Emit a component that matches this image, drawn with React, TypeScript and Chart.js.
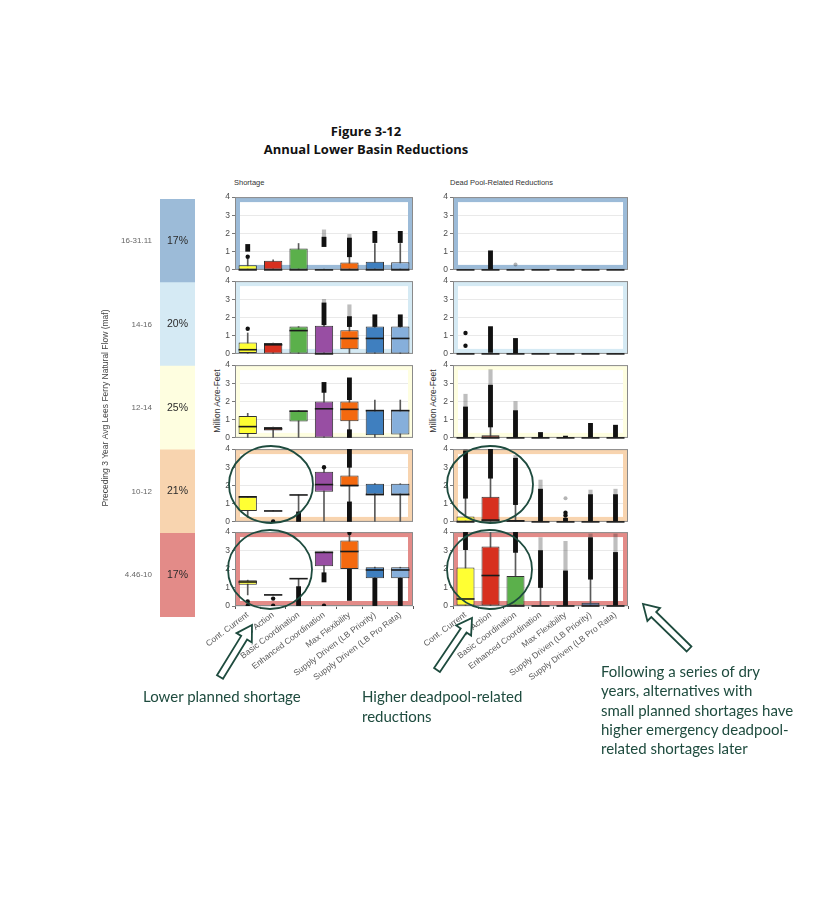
import React, { useEffect, useRef } from "react";
import { Chart, registerables } from "chart.js";
Chart.register(...registerables);

const FONT = '"Liberation Sans", Arial, sans-serif';
const HAND = 'Lato, "Noto Sans", sans-serif';
const INK = "#1e4b3e";

const CATEGORIES = [
  "Cont. Current",
  "No Action",
  "Basic Coordination",
  "Enhanced Coordination",
  "Max Flexibility",
  "Supply Driven (LB Priority)",
  "Supply Driven (LB Pro Rata)",
];
const BOX_COLORS = ["#ffff33", "#d7301f", "#5bb04b", "#984ea3", "#f4690f", "#3f7fbf", "#86afdb"];

const FLOW_BINS = ["16-31.11", "14-16", "12-14", "10-12", "4.46-10"];
const FLOW_SHARE = [17, 20, 25, 21, 17];
const BIN_COLORS = ["#9cbbd8", "#d5eaf4", "#fefee0", "#f8d4af", "#e38b88"];
const Y_TICKS = [0, 1, 2, 3, 4];

type Band = [number, number, number]; // category index, low, high
type Pt = [number, number]; // category index, value

// ---------- Shortage (left column), rows = flow bins ----------
const SHORT_Q1 = [
  [0, 0, 0, 0, 0, 0, 0],
  [0.05, 0, 0, 0, 0.25, 0, 0],
  [0.22, 0.4, 0.9, 0, 0.92, 0.15, 0.18],
  [0.6, 0.58, 1.48, 1.65, 1.95, 1.5, 1.5],
  [1.15, 0.58, 1.48, 2.15, 2.0, 1.5, 1.5],
];
const SHORT_MED = [
  [0, 0, 0, 0, 0, 0, 0],
  [0.23, 0.5, 1.28, 0, 0.85, 0.85, 0.85],
  [0.62, 0.5, 1.47, 1.6, 1.57, 1.5, 1.5],
  [1.38, 0.6, 1.48, 2.05, 2.0, 1.5, 1.5],
  [1.3, 0.6, 1.48, 2.9, 2.95, 1.95, 1.95],
];
const SHORT_Q3 = [
  [0.25, 0.5, 1.18, 0.03, 0.4, 0.45, 0.42],
  [0.62, 0.6, 1.5, 1.55, 1.3, 1.5, 1.5],
  [1.2, 0.6, 1.5, 2.0, 2.0, 1.52, 1.52],
  [1.38, 0.62, 1.48, 2.75, 2.55, 2.1, 2.1],
  [1.4, 0.62, 1.48, 2.95, 3.55, 2.1, 2.1],
];
const SHORT_WLO = [
  [0, 0, 0, 0, 0, 0, 0],
  [0, 0, 0, 0, 0, 0, 0],
  [0, 0, 0, 0, 0.45, 0, 0],
  [0.25, 0.6, 0.55, 0, 1.1, 0, 0],
  [0.6, 0.6, 1.05, 1.8, 2.0, 1.5, 1.5],
];
const SHORT_WHI = [
  [0.6, 0.55, 1.45, 0.05, 0.72, 1.45, 1.45],
  [1.15, 0.6, 1.5, 1.6, 1.5, 1.5, 1.5],
  [1.35, 0.6, 1.5, 2.5, 2.1, 2.08, 2.08],
  [1.38, 0.62, 1.48, 2.95, 3.0, 2.1, 2.1],
  [1.4, 0.62, 1.48, 2.95, 3.85, 2.1, 2.1],
];
const SHORT_BANDS: Band[][] = [
  [[0, 1.02, 1.4], [3, 1.28, 1.8], [4, 0.72, 1.75], [5, 1.5, 2.12], [6, 1.5, 2.12]],
  [[3, 1.6, 2.8], [4, 1.5, 2.05], [5, 1.5, 2.15], [6, 1.5, 2.15]],
  [[3, 2.5, 3.05], [4, 2.1, 3.3], [4, 0, 0.45]],
  [[2, 0, 0.55], [4, 3.0, 4.0], [4, 0, 1.1]],
  [[2, 0, 1.05], [3, 1.3, 1.8], [4, 0.3, 2.0], [5, 0, 1.5], [6, 0, 1.5]],
];
const SHORT_FAINT: Band[][] = [
  [[3, 1.8, 2.2], [4, 1.75, 1.95]],
  [[3, 2.8, 3.0], [4, 2.05, 2.7]],
  [],
  [],
  [],
];
const SHORT_POINTS: Pt[][] = [
  [[0, 0.72]],
  [[0, 1.38]],
  [],
  [[1, 0.02], [3, 3.0]],
  [[0, 0.25], [0, 0.02], [1, 0.4], [1, 0.02], [3, 0.02], [4, 3.95]],
];
const SHORT_FAINT_POINTS: Pt[][] = [[], [], [], [], []];

// ---------- Dead Pool-Related Reductions (right column) ----------
const DEAD_Q1 = [
  [0, 0, 0, 0, 0, 0, 0],
  [0, 0, 0, 0, 0, 0, 0],
  [0, 0, 0, 0, 0, 0, 0],
  [0, 0, 0, 0, 0, 0, 0],
  [0, 0, 0, 0, 0, 0, 0],
];
const DEAD_MED = [
  [0, 0, 0, 0, 0, 0, 0],
  [0, 0, 0, 0, 0, 0, 0],
  [0, 0, 0, 0, 0, 0, 0],
  [0, 0.1, 0.05, 0, 0, 0, 0],
  [0.38, 1.65, 0, 0, 0, 0, 0],
];
const DEAD_Q3 = [
  [0, 0, 0, 0, 0, 0, 0],
  [0, 0, 0, 0, 0, 0, 0],
  [0, 0.15, 0, 0, 0, 0, 0],
  [0.3, 1.38, 0.1, 0, 0, 0, 0],
  [2.08, 3.22, 1.62, 0, 0, 0.18, 0],
];
const DEAD_WLO = [
  [0, 0, 0, 0, 0, 0, 0],
  [0, 0, 0, 0, 0, 0, 0],
  [0, 0, 0, 0, 0, 0, 0],
  [0, 0, 0, 0, 0, 0, 0],
  [0, 0, 0, 0, 0, 0, 0],
];
const DEAD_WHI = [
  [0, 0, 0, 0, 0, 0, 0],
  [0, 0, 0, 0, 0, 0, 0],
  [0, 0.6, 0, 0, 0, 0, 0],
  [1.3, 2.4, 0.95, 0, 0, 0, 0],
  [3.05, 4.0, 2.9, 1.0, 0, 1.45, 0],
];
const DEAD_BANDS: Band[][] = [
  [[1, 0.04, 1.05]],
  [[1, 0.08, 1.5], [2, 0.04, 0.85]],
  [[0, 0.04, 1.7], [1, 0.6, 2.9], [2, 0.04, 1.5], [3, 0.02, 0.3], [4, 0.02, 0.1], [5, 0.04, 0.8], [6, 0.04, 0.7]],
  [[0, 1.3, 3.9], [1, 2.4, 4.0], [2, 0.95, 3.5], [3, 0.04, 1.8], [4, 0.02, 0.2], [5, 0.04, 1.5], [6, 0.04, 1.5]],
  [[0, 3.05, 4.0], [2, 2.9, 4.0], [3, 1.0, 3.0], [4, 0.02, 1.9], [5, 1.45, 3.7], [6, 0.04, 2.9]],
];
const DEAD_FAINT: Band[][] = [
  [],
  [],
  [[0, 1.7, 2.4], [1, 2.9, 3.75], [2, 1.5, 2.0]],
  [[0, 3.9, 4.0], [2, 3.5, 3.65], [3, 1.8, 2.3], [5, 1.5, 1.75], [6, 1.5, 1.8]],
  [[3, 3.0, 3.7], [4, 1.9, 3.5], [5, 3.7, 3.9], [6, 2.9, 3.9]],
];
const DEAD_POINTS: Pt[][] = [
  [],
  [[0, 1.15], [0, 0.45]],
  [],
  [[4, 0.35], [4, 0.5]],
  [],
];
const DEAD_FAINT_POINTS: Pt[][] = [[[2, 0.3]], [], [], [[4, 1.3]], []];

// ---------- layout ----------
const PANEL_TOPS = [196, 279.5, 364, 447.5, 531];
const PLOT_H = 75;
const COLS = [
  { plotLeft: 235, plotW: 178 },
  { plotLeft: 453, plotW: 175 },
];
const AXIS_W = 45;
const PAD_T = 6;
const PAD_B = 6;
const PAD_R = 5;
const X_AXIS_H = 115;
const BOX_FRAC = 0.72;

const STATS = [
  { q1: SHORT_Q1, med: SHORT_MED, q3: SHORT_Q3, wLo: SHORT_WLO, wHi: SHORT_WHI, bands: SHORT_BANDS, faint: SHORT_FAINT, points: SHORT_POINTS, faintPoints: SHORT_FAINT_POINTS },
  { q1: DEAD_Q1, med: DEAD_MED, q3: DEAD_Q3, wLo: DEAD_WLO, wHi: DEAD_WHI, bands: DEAD_BANDS, faint: DEAD_FAINT, points: DEAD_POINTS, faintPoints: DEAD_FAINT_POINTS },
];

function layers(list: Band[]): (number[] | null)[][] {
  const out: (number[] | null)[][] = [];
  for (const [c, lo, hi] of list) {
    let layer = out.find((l) => l[c] === null);
    if (!layer) {
      layer = CATEGORIES.map(() => null);
      out.push(layer);
    }
    layer[c] = [lo, hi];
  }
  return out;
}

function BoxPanel({ col, row }: { col: number; row: number }) {
  const ref = useRef<HTMLCanvasElement>(null);
  const g = COLS[col];
  const isBottom = row === FLOW_BINS.length - 1;
  const w = AXIS_W + g.plotW + PAD_R;
  const h = PAD_T + PLOT_H + (isBottom ? X_AXIS_H : PAD_B);

  useEffect(() => {
    const s = STATS[col];
    const q1 = s.q1[row], med = s.med[row], q3 = s.q3[row];
    const wLo = s.wLo[row], wHi = s.wHi[row];
    const frame = BIN_COLORS[row];

    const datasets: any[] = [];
    datasets.push({
      type: "bar",
      data: CATEGORIES.map((_, i) => [wLo[i], wHi[i]]),
      backgroundColor: "#5a5a5a",
      barThickness: 1,
      grouped: false,
      order: 6,
    });
    layers(s.faint[row]).forEach((l) =>
      datasets.push({ type: "bar", data: l, backgroundColor: "rgba(40,40,40,0.3)", barThickness: 3.5, grouped: false, order: 5 })
    );
    layers(s.bands[row]).forEach((l) =>
      datasets.push({ type: "bar", data: l, backgroundColor: "#111111", barThickness: 4.2, grouped: false, order: 4 })
    );
    datasets.push({
      type: "bar",
      data: CATEGORIES.map((_, i) => [q1[i], q3[i]]),
      backgroundColor: BOX_COLORS,
      borderColor: "#333333",
      borderWidth: 1,
      borderSkipped: false,
      categoryPercentage: 1,
      barPercentage: BOX_FRAC,
      grouped: false,
      order: 2,
    });
    datasets.push({
      type: "line",
      data: s.faintPoints[row].map(([c, v]) => ({ x: CATEGORIES[c], y: v })),
      showLine: false,
      pointRadius: 2,
      pointBorderWidth: 0,
      pointBackgroundColor: "rgba(40,40,40,0.35)",
      order: 1,
    });
    datasets.push({
      type: "line",
      data: s.points[row].map(([c, v]) => ({ x: CATEGORIES[c], y: v })),
      showLine: false,
      pointRadius: 2.2,
      pointBorderWidth: 0,
      pointBackgroundColor: "#111111",
      order: 0,
    });

    const framePlugin = {
      id: "frame",
      beforeDatasetsDraw(chart: any) {
        const { left, top, right, bottom } = chart.chartArea;
        const ctx = chart.ctx;
        ctx.save();
        ctx.strokeStyle = frame;
        ctx.lineWidth = 4.5;
        ctx.strokeRect(left + 2.75, top + 2.75, right - left - 5.5, bottom - top - 5.5);
        ctx.strokeStyle = "#8a8a8a";
        ctx.lineWidth = 1;
        ctx.strokeRect(left + 0.5, top + 0.5, right - left - 1, bottom - top - 1);
        ctx.restore();
      },
    };
    const medianPlugin = {
      id: "medians",
      afterDatasetsDraw(chart: any) {
        const xs = chart.scales.x, ys = chart.scales.y, ctx = chart.ctx;
        const half = ((xs.right - xs.left) / CATEGORIES.length) * BOX_FRAC / 2;
        ctx.save();
        ctx.strokeStyle = "#1a1a1a";
        ctx.lineWidth = 1.6;
        med.forEach((m: number, i: number) => {
          const px = xs.getPixelForValue(i);
          const py = ys.getPixelForValue(m);
          ctx.beginPath();
          ctx.moveTo(px - half, py);
          ctx.lineTo(px + half, py);
          ctx.stroke();
        });
        ctx.restore();
      },
    };

    const chart = new Chart(ref.current!, {
      type: "bar",
      data: { labels: CATEGORIES, datasets },
      options: {
        responsive: false,
        animation: false,
        layout: { padding: { top: PAD_T, bottom: isBottom ? 0 : PAD_B, left: 0, right: PAD_R } },
        plugins: { legend: { display: false }, tooltip: { enabled: false } },
        scales: {
          x: {
            display: isBottom,
            offset: true,
            grid: { display: true, drawOnChartArea: false, drawTicks: true, tickLength: 3, tickColor: "#555" },
            border: { display: false },
            ticks: { autoSkip: false, minRotation: 37, maxRotation: 37, font: { size: 8.5, family: FONT }, color: "#595959", padding: 1 },
            afterFit: (sc: any) => {
              if (isBottom) sc.height = X_AXIS_H;
            },
          },
          y: {
            min: 0,
            max: 4,
            afterBuildTicks: (sc: any) => {
              const t: any[] = [];
              Y_TICKS.forEach((v, i) => {
                t.push({ value: v });
                if (i < Y_TICKS.length - 1) t.push({ value: v + 0.5 });
              });
              sc.ticks = t;
            },
            ticks: {
              callback: (v: any) => (Y_TICKS.includes(Number(v)) ? String(v) : ""),
              font: { size: 8.5, family: FONT },
              color: "#4d4d4d",
              padding: 2,
            },
            grid: {
              color: (c: any) => (c.tick && Y_TICKS.includes(c.tick.value) ? "#e3e3e3" : "#f1f1f1"),
              tickColor: (c: any) => (c.tick && Y_TICKS.includes(c.tick.value) ? "#555" : "rgba(0,0,0,0)"),
              tickLength: 3,
              lineWidth: 0.8,
            },
            border: { display: true, color: "#8a8a8a" },
            afterFit: (sc: any) => {
              sc.width = AXIS_W;
            },
          },
        },
      } as any,
      plugins: [framePlugin, medianPlugin],
    });
    return () => chart.destroy();
  }, [col, row]);

  return (
    <canvas
      ref={ref}
      width={w}
      height={h}
      style={{ position: "absolute", left: g.plotLeft - AXIS_W, top: PANEL_TOPS[row] - PAD_T, width: w, height: h }}
    />
  );
}

function FlowStrip() {
  const ref = useRef<HTMLCanvasElement>(null);
  useEffect(() => {
    const pct = {
      id: "pct",
      afterDatasetsDraw(chart: any) {
        const ctx = chart.ctx;
        const meta = chart.getDatasetMeta(0);
        ctx.save();
        ctx.font = `10.5px ${FONT}`;
        ctx.fillStyle = "#2b2b2b";
        ctx.textAlign = "center";
        ctx.textBaseline = "middle";
        meta.data.forEach((el: any, i: number) => {
          ctx.fillText(`${FLOW_SHARE[i]}%`, (el.x + el.base) / 2, el.y);
        });
        ctx.restore();
      },
    };
    const chart = new Chart(ref.current!, {
      type: "bar",
      data: {
        labels: FLOW_BINS,
        datasets: [
          { data: FLOW_BINS.map(() => 1), backgroundColor: BIN_COLORS, categoryPercentage: 1, barPercentage: 1, borderWidth: 0 },
        ],
      },
      options: {
        indexAxis: "y",
        responsive: false,
        animation: false,
        layout: { padding: 0 },
        plugins: { legend: { display: false }, tooltip: { enabled: false } },
        scales: {
          x: { display: false, min: 0, max: 1 },
          y: {
            grid: { display: false, drawTicks: false },
            border: { display: false },
            ticks: { font: { size: 8, family: FONT }, color: "#666", padding: 8 },
            title: {
              display: true,
              text: "Preceding 3 Year Avg Lees Ferry Natural Flow (maf)",
              font: { size: 8.5, family: FONT },
              color: "#444",
              padding: { top: 6, bottom: 0 },
            },
            afterFit: (sc: any) => {
              sc.width = 65;
              sc.paddingTop = 0;
              sc.paddingBottom = 0;
            },
          },
        },
      } as any,
      plugins: [pct],
    });
    return () => chart.destroy();
  }, []);
  return (
    <canvas ref={ref} width={100} height={418} style={{ position: "absolute", left: 95, top: 199, width: 100, height: 418 }} />
  );
}

function arrow(tx: number, ty: number, hx: number, hy: number) {
  const dx = hx - tx, dy = hy - ty;
  const len = Math.hypot(dx, dy);
  const ux = dx / len, uy = dy / len;
  const px = -uy, py = ux;
  const sw = 3.5, hw = 9, hl = 15;
  const bx = hx - ux * hl, by = hy - uy * hl;
  const pts = [
    [tx + px * sw, ty + py * sw],
    [bx + px * sw, by + py * sw],
    [bx + px * hw, by + py * hw],
    [hx, hy],
    [bx - px * hw, by - py * hw],
    [bx - px * sw, by - py * sw],
    [tx - px * sw, ty - py * sw],
  ];
  return pts.map((p) => p.map((v) => v.toFixed(1)).join(",")).join(" ");
}

const handStyle: React.CSSProperties = {
  position: "absolute",
  fontFamily: HAND,
  fontSize: 15,
  color: INK,
  whiteSpace: "nowrap",
};

export default function App() {
  return (
    <div style={{ position: "absolute", left: 0, top: 0, width: 816, height: 912, background: "#fff", fontFamily: FONT }}>
      <div
        style={{
          position: "absolute", left: 0, width: 732, top: 122, textAlign: "center",
          fontFamily: '"Open Sans", sans-serif', fontWeight: 700, fontSize: 13, lineHeight: "18px", color: "#111",
        }}
      >
        Figure 3-12
        <br />
        Annual Lower Basin Reductions
      </div>
      <div style={{ position: "absolute", left: 234, top: 178, fontSize: 7.5, color: "#333" }}>Shortage</div>
      <div style={{ position: "absolute", left: 450, top: 178, fontSize: 7.5, color: "#333" }}>Dead Pool-Related Reductions</div>
      {[217, 433].map((x) => (
        <div
          key={x}
          style={{
            position: "absolute", left: x - 60, top: 396, width: 120, textAlign: "center",
            fontSize: 8.5, color: "#333", lineHeight: "10px", transform: "rotate(-90deg)",
          }}
        >
          Million Acre-Feet
        </div>
      ))}
      <FlowStrip />
      {FLOW_BINS.map((_, r) => [0, 1].map((c) => <BoxPanel key={`${r}-${c}`} col={c} row={r} />))}
      <svg width={816} height={912} style={{ position: "absolute", left: 0, top: 0, pointerEvents: "none" }}>
        <g fill="none" stroke={INK} strokeWidth={1.8}>
          <ellipse cx={271} cy={484.5} rx={42} ry={38.5} />
          <ellipse cx={270} cy={569.5} rx={42} ry={39.5} />
          <ellipse cx={490} cy={484.5} rx={43} ry={38.5} />
          <ellipse cx={489.5} cy={569.5} rx={42.5} ry={39.5} />
        </g>
        <g fill="#fff" stroke={INK} strokeWidth={1.8} strokeLinejoin="miter">
          <polygon points={arrow(220, 677, 252, 625)} />
          <polygon points={arrow(437, 670, 472, 618)} />
          <polygon points={arrow(689, 649, 643, 604)} />
        </g>
      </svg>
      <div style={{ ...handStyle, left: 143, top: 686, lineHeight: "20px" }}>Lower planned shortage</div>
      <div style={{ ...handStyle, left: 362, top: 686, lineHeight: "20px" }}>
        Higher deadpool-related
        <br />
        reductions
      </div>
      <div style={{ ...handStyle, left: 601, top: 662, lineHeight: "19.3px" }}>
        Following a series of dry
        <br />
        years, alternatives with
        <br />
        small planned shortages have
        <br />
        higher emergency deadpool-
        <br />
        related shortages later
      </div>
    </div>
  );
}
